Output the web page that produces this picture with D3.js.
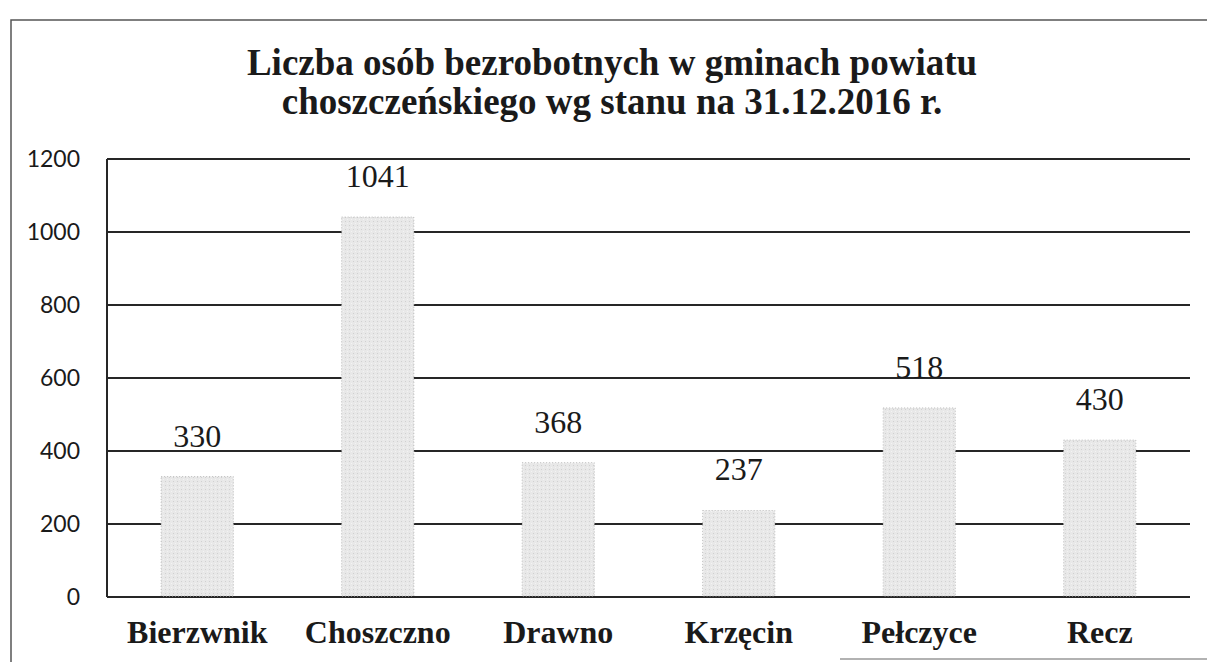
<!DOCTYPE html>
<html>
<head>
<meta charset="utf-8">
<script src="https://cdn.jsdelivr.net/npm/d3@7"></script>
<style>
    body { margin: 0; background: #fff; }
    #container { width: 1207px; height: 662px; }
    .serif { font-family: "Liberation Serif", "Times New Roman", serif; }
</style>
</head>
<body>
<div id="container"></div>
<script>
const categories = ["Bierzwnik", "Choszczno", "Drawno", "Krzęcin", "Pełczyce", "Recz"];
const values = [330, 1041, 368, 237, 518, 430];
const yTicks = [0, 200, 400, 600, 800, 1000, 1200];
const titleLines = [
    "Liczba osób bezrobotnych w gminach powiatu",
    "choszczeńskiego wg stanu na 31.12.2016 r."
];

const container = d3.select('#container')

var width = 1207,
    height = 662;

var margin = {left: 107, right: 1190, top: 159, bottom: 597};

const svg = container
    .append('svg')
        .attr('width', width)
        .attr('height', height);

// bar stipple texture
const defs = svg.append("defs");
const pat = defs.append("pattern")
    .attr("id", "stipple")
    .attr("width", 4)
    .attr("height", 4)
    .attr("patternUnits", "userSpaceOnUse");
pat.append("rect").attr("width", 4).attr("height", 4).attr("fill", "#e8e8e8");
pat.append("rect").attr("x", 1).attr("y", 1).attr("width", 1).attr("height", 1).attr("fill", "#d0d0d0");
pat.append("rect").attr("x", 3).attr("y", 3).attr("width", 1).attr("height", 1).attr("fill", "#f3f3f3");

// outer frame (scan border)
svg.append("path")
    .attr("d", d3.line()([[11, 662], [11, 20], [1207, 20]]))
    .attr("stroke", "#555")
    .attr("stroke-width", 1.5)
    .attr("fill", "none");
svg.append("path")
    .attr("d", d3.line()([[840, 659], [1207, 659]]))
    .attr("stroke", "#999")
    .attr("stroke-width", 1.5);

// title
svg.append("g").selectAll("text")
    .data(titleLines)
    .enter()
    .append("text")
        .attr("class", "serif")
        .attr("x", 612)
        .attr("y", (d, i) => 75 + i * 39)
        .attr("text-anchor", "middle")
        .attr("font-size", "37px")
        .attr("font-weight", "bold")
        .attr("fill", "#1a1a1a")
        .text(d => d);

var x = d3.scaleBand()
    .domain(categories)
    .range([margin.left, margin.right])
    .paddingInner(0.6)
    .paddingOuter(0.3);

var y = d3.scaleLinear()
    .domain([0, 1200])
    .range([margin.bottom, margin.top]);

// gridlines
svg.append("g")
    .selectAll("line")
    .data(yTicks)
    .enter()
    .append("line")
        .attr("x1", margin.left)
        .attr("x2", margin.right)
        .attr("y1", d => y(d))
        .attr("y2", d => y(d))
        .attr("stroke", "#262626")
        .attr("stroke-width", 2);

// left axis line
svg.append("line")
    .attr("x1", margin.left).attr("x2", margin.left)
    .attr("y1", margin.top).attr("y2", margin.bottom)
    .attr("stroke", "#262626")
    .attr("stroke-width", 2);

// y labels
const yAxis = svg.append("g")
    .attr("transform", "translate(80,0)")
    .call(d3.axisLeft(y).tickValues(yTicks).tickFormat(d3.format("d")).tickSize(0).tickPadding(0));
yAxis.select(".domain").remove();
yAxis.selectAll("text")
    .attr("font-family", "Lato, 'Open Sans', sans-serif")
    .attr("font-size", "23px")
    .attr("fill", "#1a1a1a");

// bars
svg.append("g")
    .selectAll("rect")
    .data(values)
    .enter()
    .append("rect")
        .attr("x", (d, i) => x(categories[i]))
        .attr("y", d => y(d))
        .attr("width", x.bandwidth())
        .attr("height", d => y(0) - y(d) - 1)
        .attr("fill", "url(#stipple)")
        .attr("stroke", "#bdbdbd")
        .attr("stroke-width", 1)
        .attr("stroke-dasharray", "1,2");

// value labels
svg.append("g")
    .selectAll("text")
    .data(values)
    .enter()
    .append("text")
        .attr("class", "serif")
        .attr("x", (d, i) => x(categories[i]) + x.bandwidth() / 2)
        .attr("y", d => y(d) - 30)
        .attr("text-anchor", "middle")
        .attr("font-size", "32px")
        .attr("fill", "#1a1a1a")
        .text(d => d);

// category labels
svg.append("g")
    .selectAll("text")
    .data(categories)
    .enter()
    .append("text")
        .attr("class", "serif")
        .attr("x", d => x(d) + x.bandwidth() / 2)
        .attr("y", 643)
        .attr("text-anchor", "middle")
        .attr("font-size", "32px")
        .attr("font-weight", "bold")
        .attr("fill", "#1a1a1a")
        .text(d => d);
</script>
</body>
</html>
